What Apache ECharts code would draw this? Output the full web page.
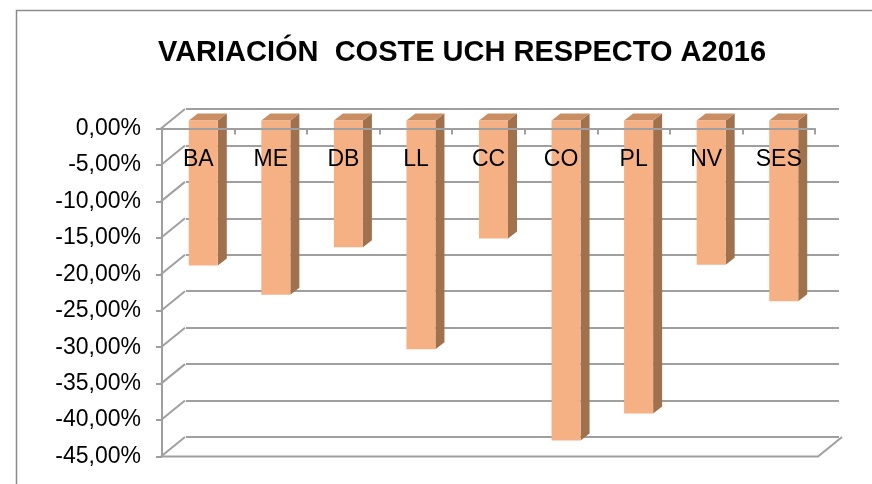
<!DOCTYPE html>
<html>
<head>
<meta charset="utf-8">
<script src="https://cdn.jsdelivr.net/npm/echarts@6/dist/echarts.min.js"></script>
<style>
html,body{margin:0;padding:0;background:#fff;}
#chart{width:872px;height:484px;}
</style>
</head>
<body>
<div id="chart"></div>
<script>
// ---- data ----
const titleText = 'VARIACIÓN  COSTE UCH RESPECTO A2016';
const categories = ['BA', 'ME', 'DB', 'LL', 'CC', 'CO', 'PL', 'NV', 'SES'];
const values = [-19.9, -23.9, -17.4, -31.4, -16.2, -43.9, -40.2, -19.8, -24.8];
const yTicks = [0, -5, -10, -15, -20, -25, -30, -35, -40, -45];

// ---- style constants ----
const WALL_DX = 24, WALL_DY = -19.5;      // depth of the back wall
const BAR_DX = 5, BAR_DY = -8;            // bar front face offset
const BAR_DEPTH_X = 9, BAR_DEPTH_Y = -7;  // bar side depth
const GRID_COLOR = '#9f9f9f';
const FRONT = '#f5b084', SIDE = '#a0714d', TOP = '#c98e63';

const chart = echarts.init(document.getElementById('chart'));

function fmt(v) { return v.toFixed(2).replace('.', ',') + '%'; }

const option = {
  backgroundColor: '#fff',
  animation: false,
  title: {
    text: titleText,
    left: 457, top: 33, textAlign: 'center',
    textStyle: { fontFamily: 'Liberation Sans, Arial', fontWeight: 'bold', fontSize: 29, color: '#000' }
  },
  graphic: [{
    type: 'rect', shape: { x: 16.5, y: 10.5, width: 900, height: 500 },
    style: { fill: 'none', stroke: '#8c8c8c', lineWidth: 1.5 }, z: -10
  }],
  grid: [
    { left: 162, top: 128.5, width: 653, height: 328 },
    { left: 186, top: 109, width: 653, height: 328 }
  ],
  xAxis: [
    {
      gridIndex: 0, type: 'category', data: categories, position: 'top', z: 10,
      axisLine: { show: true, lineStyle: { color: GRID_COLOR, width: 2 } },
      axisTick: { show: true, inside: true, length: 6, lineStyle: { color: GRID_COLOR, width: 2 } },
      axisLabel: { inside: true, margin: 20, fontFamily: 'Liberation Sans, Arial', fontSize: 23, color: '#000' },
      splitLine: { show: false }
    },
    {
      gridIndex: 1, type: 'category', data: categories, show: false
    }
  ],
  yAxis: [
    {
      gridIndex: 0, type: 'value', min: -45, max: 0, interval: 5, z: 10,
      axisLine: { show: true, lineStyle: { color: GRID_COLOR, width: 2 } },
      axisTick: { show: true, inside: false, length: 6, lineStyle: { color: GRID_COLOR, width: 2 } },
      axisLabel: { margin: 21, formatter: fmt, fontFamily: 'Liberation Sans, Arial', fontSize: 23, color: '#000' },
      splitLine: { show: false }
    },
    {
      gridIndex: 1, type: 'value', min: -45, max: 0, interval: 5,
      axisLine: { show: false }, axisTick: { show: false }, axisLabel: { show: false },
      splitLine: { show: true, lineStyle: { color: GRID_COLOR, width: 2 } }
    }
  ],
  series: [
    {
      // left wall diagonals and floor edges
      type: 'custom', xAxisIndex: 0, yAxisIndex: 0, z: 1, silent: true,
      data: yTicks.map(v => [0, v]),
      renderItem: function (params, api) {
        const p = api.coord([0, api.value(1)]);
        const bw = api.size([1, 0])[0];
        const x0 = p[0] - bw / 2 - 1;
        const children = [{
          type: 'line',
          shape: { x1: x0, y1: p[1], x2: x0 + WALL_DX, y2: p[1] + WALL_DY },
          style: { stroke: GRID_COLOR, lineWidth: 2 }
        }];
        if (api.value(1) === yTicks[yTicks.length - 1]) {
          const pr = api.coord([categories.length - 1, api.value(1)]);
          const x1 = pr[0] + bw / 2 + 3;
          children.push({
            type: 'polyline',
            shape: { points: [[x0, p[1]], [x1, p[1]], [x1 + WALL_DX, p[1] + WALL_DY]] },
            style: { stroke: GRID_COLOR, lineWidth: 2, fill: null }
          });
        }
        return { type: 'group', children: children };
      }
    },
    {
      // 3D-looking bars
      type: 'custom', xAxisIndex: 0, yAxisIndex: 0, z: 3,
      data: values.map((v, i) => [i, v]),
      renderItem: function (params, api) {
        const i = api.value(0), v = api.value(1);
        const t = api.coord([i, 0]);
        const b = api.coord([i, v]);
        const bw = api.size([1, 0])[0];
        const w = bw * 0.4;
        const cx = t[0] + BAR_DX;
        const x1 = cx - w / 2, x2 = cx + w / 2;
        const yT = t[1] + BAR_DY, yB = b[1] + BAR_DY;
        return {
          type: 'group',
          children: [
            { type: 'polygon', shape: { points: [[x2, yT], [x2 + BAR_DEPTH_X, yT + BAR_DEPTH_Y], [x2 + BAR_DEPTH_X, yB + BAR_DEPTH_Y], [x2, yB]] }, style: { fill: SIDE } },
            { type: 'polygon', shape: { points: [[x1, yT], [x2, yT], [x2 + BAR_DEPTH_X, yT + BAR_DEPTH_Y], [x1 + BAR_DEPTH_X, yT + BAR_DEPTH_Y]] }, style: { fill: TOP } },
            { type: 'rect', shape: { x: x1, y: yT, width: w, height: yB - yT }, style: { fill: FRONT } }
          ]
        };
      }
    }
  ]
};
chart.setOption(option);
</script>
</body>
</html>
